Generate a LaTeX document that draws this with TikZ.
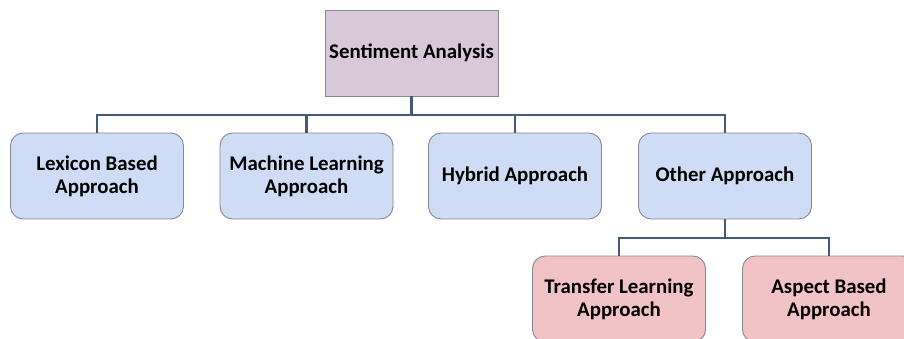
\documentclass[tikz,border=0pt]{standalone}
\usepackage{fontspec}
\setmainfont{Carlito}
\usepackage{tikz}
\usepackage{xcolor}

\definecolor{rootfill}{HTML}{D9C8DA}
\definecolor{bluefill}{HTML}{CEDDF5}
\definecolor{pinkfill}{HTML}{F2C3C5}
\definecolor{boxline}{HTML}{858A93}
\definecolor{linkline}{HTML}{42597A}

\begin{document}
\begin{tikzpicture}[x=0.03cm,y=-0.03cm,
  box/.style={draw=boxline, line width=0.8pt, minimum width=5.19cm, minimum height=2.58cm,
    align=center, font=\fontsize{17.8}{19.6}\selectfont\bfseries, inner sep=0pt},
  approach/.style={box, rounded corners=0.38cm, fill=bluefill},
  subapproach/.style={box, rounded corners=0.38cm, fill=pinkfill},
  link/.style={linkline, line width=1.8pt}]
\clip (0,0) rectangle (904,339);
\fill [white] (0,0) rectangle (904,339);

\node [box, fill=rootfill] (sa) at (411.5,53) {Sentiment Analysis};

\node [approach] (lex) at (97,176) {Lexicon Based\\Approach};
\node [approach] (ml) at (306.5,176) {Machine Learning\\Approach};
\node [approach] (hyb) at (515,176) {Hybrid Approach};
\node [approach] (oth) at (725,176) {Other Approach};

\node [subapproach] (tl) at (619,299) {Transfer Learning\\Approach};
\node [subapproach] (ab) at (829,299) {Aspect Based\\Approach};

\coordinate (bus) at (0,115);
\coordinate (subbus) at (0,238);
\foreach \c in {lex,ml,hyb,oth}
  \draw [link] (sa.south) -- (sa.south |- bus) -| (\c.north);
\foreach \c in {tl,ab}
  \draw [link] (oth.south) -- (oth.south |- subbus) -| (\c.north);

\end{tikzpicture}
\end{document}
